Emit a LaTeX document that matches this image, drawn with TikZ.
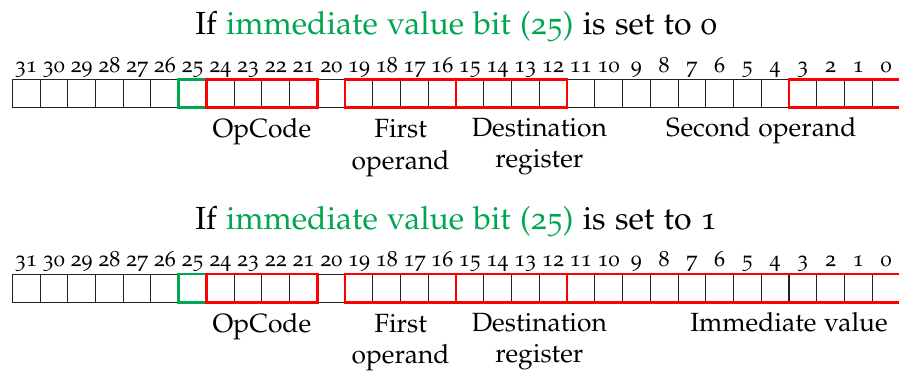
\documentclass[tikz,border=0pt]{standalone}
\usepackage[T1]{fontenc}
\usepackage[osf]{mathpazo}
\usepackage{xcolor}
\definecolor{immgreen}{HTML}{00A650}
\definecolor{fieldred}{HTML}{FF0000}
\definecolor{cellink}{HTML}{222222}
\usetikzlibrary{positioning,fit,calc}

\begin{document}
\begin{tikzpicture}[
  x=1pt,y=1pt,
  cell/.style={draw=cellink,line width=0.4pt,minimum width=10.835pt,
    minimum height=11pt,inner sep=0pt,outer sep=0pt},
  bitnum/.style={font=\fontsize{8.6}{10}\selectfont,anchor=base,inner sep=0pt},
  heading/.style={font=\fontsize{12.5}{15}\selectfont,anchor=base,inner sep=0pt},
  field/.style={draw=fieldred,line width=1pt,inner sep=0pt},
  immbit/.style={draw=immgreen,line width=1pt,inner sep=0pt},
  fieldlabel/.style={font=\fontsize{10.3}{12.3}\selectfont,align=center,
    anchor=base,inner sep=0pt}
]
\useasboundingbox (0,0) rectangle (351.15,-144.9);

% Immediate value bit set to 0
\foreach \b in {31,...,0} {
  \node[cell] (p\b) at ({4.8+(31-\b+0.5)*10.835},-36.5) {};
  \node[bitnum] at ([yshift=2.85pt]p\b.north) {\b};
}
\node[heading] (phead) at ([yshift=17.6pt]p16.north east)
  {If \textcolor{immgreen}{immediate value bit (25)} is set to 0};
\node[immbit,fit=(p25)] (pimm) {};
\node[field,fit=(p24)(p21)] (popc) {};
\node[field,fit=(p19)(p16)] (pfirst) {};
\node[field,fit=(p15)(p12)] (pdest) {};
\node[field,fit=(p3)(p0)] (psecond) {};
\node[fieldlabel] at ([yshift=-11.3pt]popc.south) {OpCode};
\node[fieldlabel] at ([yshift=-23.6pt]pfirst.south) {First\\operand};
\node[fieldlabel] at ([yshift=-23.6pt]p13.south east) {Destination\\register};
\node[fieldlabel] at ([yshift=-11.3pt]p5.south east) {Second operand};

% Immediate value bit set to 1
\foreach \b in {31,...,0} {
  \node[cell] (q\b) at ({4.8+(31-\b+0.5)*10.835},-112.55) {};
  \node[bitnum] at ([yshift=2.85pt]q\b.north) {\b};
}
\node[heading] (qhead) at ([yshift=17.6pt]q16.north east)
  {If \textcolor{immgreen}{immediate value bit (25)} is set to 1};
\node[immbit,fit=(q25)] (qimm) {};
\node[field,fit=(q24)(q21)] (qopc) {};
\node[field,fit=(q19)(q16)] (qfirst) {};
\node[field,fit=(q15)(q12)] (qdest) {};
\node[field,fit=(q11)(q0)] (qvalue) {};
\node[fieldlabel] at ([yshift=-11.3pt]qopc.south) {OpCode};
\node[fieldlabel] at ([yshift=-23.6pt]qfirst.south) {First\\operand};
\node[fieldlabel] at ([yshift=-23.6pt]q13.south east) {Destination\\register};
\node[fieldlabel] at ([yshift=-11.3pt]q4.south east) {Immediate value};

\end{tikzpicture}
\end{document}
